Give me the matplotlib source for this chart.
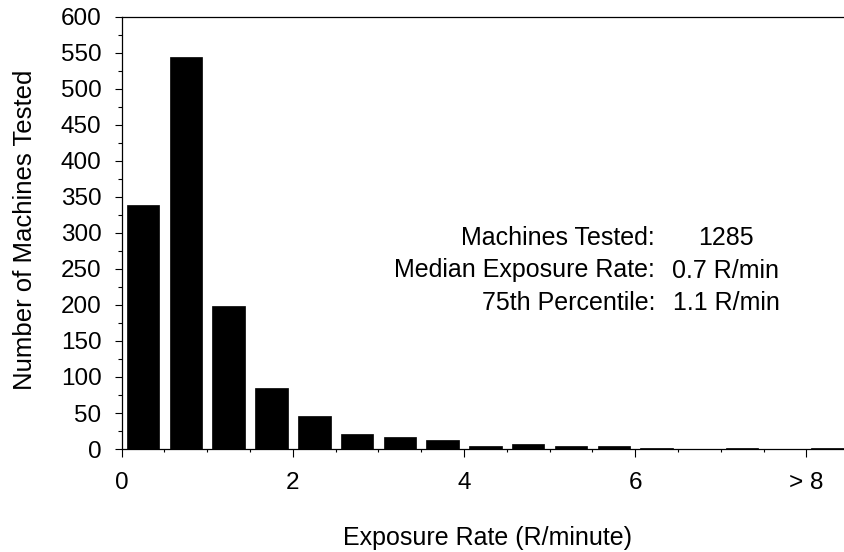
import matplotlib
matplotlib.use("Agg")
import matplotlib.pyplot as plt
from matplotlib.ticker import MultipleLocator, FixedLocator
import numpy as np

plt.rcParams['font.family'] = ['Liberation Sans', 'DejaVu Sans']

# histogram of exposure rates, bins 0.5 R/min wide, last bin is "> 8"
bin_left = np.arange(0, 8.5, 0.5)
counts = [339, 545, 198, 85, 46, 21, 16, 12, 4, 7, 4, 4, 2, 0, 1, 0, 1]
tick_pos = [0, 2, 4, 6, 8]
tick_labels = ['0', '2', '4', '6', '> 8']

stat_names = ['Machines Tested:', 'Median Exposure Rate:', '75th Percentile:']
stat_values = ['1285', '0.7 R/min', '1.1 R/min']

W, H = 844, 552
fig = plt.figure(figsize=(W / 100, H / 100), dpi=100)
ax = fig.add_axes([121.7 / W, 1 - 449 / H, 1 - 121.7 / W, (449 - 17) / H])

centers = bin_left + 0.25
ax.bar(centers, counts, width=0.38, color='black', edgecolor='black', linewidth=0.5)

ax.set_xlim(0, 8.44)
ax.set_ylim(0, 600)

ax.spines['right'].set_visible(False)
for s in ['left', 'bottom', 'top']:
    ax.spines[s].set_linewidth(0.9)

ax.xaxis.set_major_locator(FixedLocator(tick_pos))
ax.set_xticklabels(tick_labels)
ax.xaxis.set_minor_locator(MultipleLocator(0.5))
ax.yaxis.set_major_locator(MultipleLocator(50))
ax.yaxis.set_minor_locator(MultipleLocator(25))

ax.tick_params(axis='x', which='major', length=5.8, width=0.8, pad=11, labelsize=17.5)
ax.tick_params(axis='x', which='minor', length=2.4, width=0.8)
ax.tick_params(axis='y', which='major', length=5, width=0.8, pad=9.5, labelsize=17.5)
ax.tick_params(axis='y', which='minor', length=2.9, width=0.8)

fig.text(25 / W, 1 - 230 / H, 'Number of Machines Tested', rotation=90,
         ha='center', va='center', fontsize=18.5)
fig.text(487 / W, 1 - 538 / H, 'Exposure Rate (R/minute)',
         ha='center', va='center', fontsize=18)

line_y = [238, 270.5, 303]
for name, val, y in zip(stat_names, stat_values, line_y):
    fig.text(655 / W, 1 - y / H, name, ha='right', va='center', fontsize=18)
    fig.text(726 / W, 1 - y / H, val, ha='center', va='center', fontsize=18)

fig.savefig('out.png', dpi=100)
